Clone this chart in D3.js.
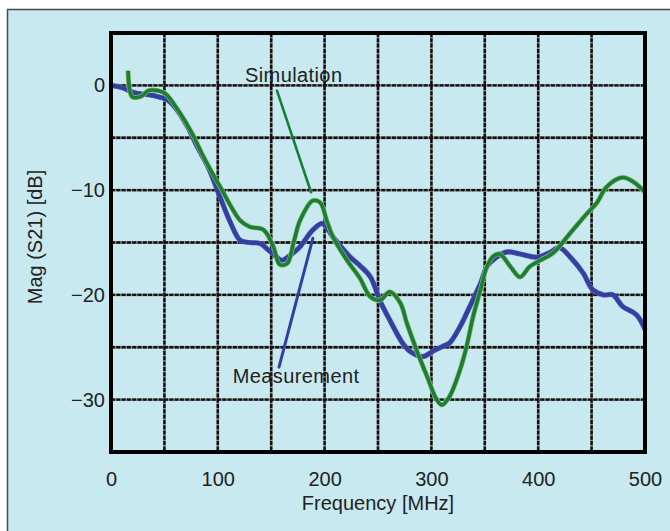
<!DOCTYPE html>
<html>
<head>
<meta charset="utf-8">
<script src="https://cdn.jsdelivr.net/npm/d3@7.9.0/dist/d3.min.js"></script>
<style>
  body { margin: 0; background: #fff; }
  #chart { width: 670px; height: 531px; }
  text { font-family: 'Liberation Sans', Arial, Helvetica, sans-serif; fill: #222; }
</style>
</head>
<body>
<div id="chart"></div>
<script>
// Measured S21 (blue trace)
const measFreq = [0, 10, 22, 41, 53, 60, 72, 81, 91, 100, 111, 121, 130, 140, 146, 153, 160, 168, 177, 189,
  198, 208, 224, 233, 243, 252, 261, 273, 280, 292, 301, 311, 317, 327, 336, 346, 352, 361, 371, 383,
  399, 410, 420, 430, 442, 451, 461, 470, 479, 492, 500];
const measMag = [0, -0.2, -0.7, -1.0, -1.4, -2.1, -4.0, -5.9, -7.8, -10.1, -12.9, -14.8, -15.0, -15.1, -15.6, -16.2, -16.7, -16.2, -15.4, -13.8,
  -13.2, -14.5, -16.4, -17.2, -18.3, -20.6, -22.4, -24.6, -25.4, -25.9, -25.4, -24.9, -24.6, -23.0, -21.1, -18.9, -17.3, -16.4, -15.9, -16.1,
  -16.4, -16.0, -15.5, -16.4, -17.9, -19.5, -20.0, -20.0, -21.1, -21.9, -23.3];

// Simulated S21 (green trace)
const simFreq = [16, 20, 29, 35, 44, 51, 63, 76, 85, 95, 104, 112, 121, 130, 143, 152, 158, 165, 171, 177,
  189, 196, 202, 208, 221, 233, 243, 252, 261, 271, 277, 287, 296, 305, 310, 317, 327, 333, 339, 346,
  352, 358, 364, 374, 383, 392, 402, 414, 430, 446, 455, 464, 479, 489, 500];
const simMag = [1.4, -1.1, -1.0, -0.5, -0.5, -0.8, -2.4, -4.6, -6.5, -8.4, -10.0, -11.5, -12.9, -13.5, -13.8, -15.4, -17.1, -17.0, -15.0, -12.9,
  -11.0, -11.2, -12.9, -14.5, -16.7, -18.4, -20.2, -20.5, -19.7, -20.8, -22.7, -25.5, -27.8, -30.0, -30.5, -29.7, -27.1, -24.9, -22.1, -19.5,
  -17.3, -16.3, -16.1, -17.3, -18.3, -17.3, -16.7, -16.0, -14.1, -12.2, -11.2, -9.7, -8.8, -9.2, -10.2];

const xTicks = [0, 100, 200, 300, 400, 500];
const yTicks = [0, -10, -20, -30];
const xGrid = [50, 100, 150, 200, 250, 300, 350, 400, 450];
const yGrid = [0, -5, -10, -15, -20, -25, -30];

// Annotations: label text, label anchor and pointer line, in data units
const labels = [
  { text: 'Simulation', f: 125.5, db: 0.3, from: [155.4, -0.5], to: [187.3, -10.2], color: '#1b7d3d', w: 2.6 },
  { text: 'Measurement', f: 114, db: -28.4, from: [157.3, -26.9], to: [189, -14.6], color: '#3440a0', w: 3 },
];

const width = 670;
const height = 531;
const margin = { top: 33, right: 25, bottom: 79, left: 111 };
const innerW = width - margin.left - margin.right;
const innerH = height - margin.top - margin.bottom;

const svg = d3.select('#chart').append('svg')
  .attr('width', width)
  .attr('height', height);

// light blue panel
svg.append('rect')
  .attr('x', 7.5).attr('y', 9.5)
  .attr('width', 700).attr('height', 530)
  .attr('fill', '#c8e9f0')
  .attr('stroke', '#4a4a4a')
  .attr('stroke-width', 1.5);

const g = svg.append('g').attr('transform', `translate(${margin.left},${margin.top})`);

const x = d3.scaleLinear().domain([0, 500]).range([0, innerW]);
const y = d3.scaleLinear().domain([-35, 5]).range([innerH, 0]);

// Grid: gray base with dense black dashes on top
const grid = g.append('g').attr('class', 'grid');
const gridLines = [
  ...xGrid.map((v) => ({ x1: x(v), x2: x(v), y1: 0, y2: innerH })),
  ...yGrid.map((v) => ({ x1: 0, x2: innerW, y1: y(v), y2: y(v) })),
];
grid.selectAll('line.base').data(gridLines).join('line')
  .attr('class', 'base')
  .attr('x1', (d) => d.x1).attr('x2', (d) => d.x2)
  .attr('y1', (d) => d.y1).attr('y2', (d) => d.y2)
  .attr('stroke', '#8a8a8a')
  .attr('stroke-width', 2.8);
grid.selectAll('line.dash').data(gridLines).join('line')
  .attr('class', 'dash')
  .attr('x1', (d) => d.x1).attr('x2', (d) => d.x2)
  .attr('y1', (d) => d.y1).attr('y2', (d) => d.y2)
  .attr('stroke', '#111')
  .attr('stroke-width', 2.4)
  .attr('stroke-dasharray', '4,1.3');

// Axes (labels only, frame drawn separately)
const xAxis = g.append('g')
  .attr('transform', `translate(0,${innerH})`)
  .call(d3.axisBottom(x).tickValues(xTicks).tickSize(0).tickPadding(20));
const yAxis = g.append('g')
  .call(d3.axisLeft(y).tickValues(yTicks).tickSize(0).tickPadding(6)
    .tickFormat((d) => (d < 0 ? '\u2212' + Math.abs(d) : d)));
g.selectAll('.domain').remove();
g.selectAll('.tick text')
  .style('font-size', '20px')
  .style('font-family', "'Liberation Sans', Arial, sans-serif")
  .attr('fill', '#222');

// Lines
const line = d3.line()
  .x((d) => x(d[0]))
  .y((d) => y(d[1]))
  .curve(d3.curveCatmullRom.alpha(0.5));

const meas = measFreq.map((f, i) => [f, measMag[i]]);
const sim = simFreq.map((f, i) => [f, simMag[i]]);

g.append('path').datum(meas)
  .attr('d', line)
  .attr('fill', 'none')
  .attr('stroke', '#5663bb')
  .attr('stroke-width', 5.2)
  .attr('stroke-linejoin', 'round');
g.append('path').datum(meas)
  .attr('d', line)
  .attr('fill', 'none')
  .attr('stroke', '#3440a0')
  .attr('stroke-width', 4)
  .attr('stroke-linejoin', 'round');

g.append('path').datum(sim)
  .attr('d', line)
  .attr('fill', 'none')
  .attr('stroke', '#8cbd5c')
  .attr('stroke-width', 5)
  .attr('stroke-linejoin', 'round');
g.append('path').datum(sim)
  .attr('d', line)
  .attr('fill', 'none')
  .attr('stroke', '#1b7d3d')
  .attr('stroke-width', 3.6)
  .attr('stroke-linejoin', 'round');

// Annotations
labels.forEach((l) => {
  g.append('line')
    .attr('x1', x(l.from[0])).attr('y1', y(l.from[1]))
    .attr('x2', x(l.to[0])).attr('y2', y(l.to[1]))
    .attr('stroke', l.color)
    .attr('stroke-width', l.w)
    .attr('stroke-linecap', 'round');
  g.append('text')
    .attr('x', x(l.f)).attr('y', y(l.db))
    .style('font-size', '20px')
    .style('letter-spacing', '0.4px')
    .text(l.text);
});

// Plot frame
g.append('rect')
  .attr('width', innerW)
  .attr('height', innerH)
  .attr('fill', 'none')
  .attr('stroke', '#000')
  .attr('stroke-width', 4);

// Axis titles
g.append('text')
  .attr('x', innerW / 2)
  .attr('y', innerH + 58)
  .attr('text-anchor', 'middle')
  .style('font-size', '20px')
  .text('Frequency [MHz]');

svg.append('text')
  .attr('transform', 'translate(42,237) rotate(-90)')
  .attr('text-anchor', 'middle')
  .style('font-size', '20px')
  .text('Mag (S21) [dB]');
</script>
</body>
</html>
